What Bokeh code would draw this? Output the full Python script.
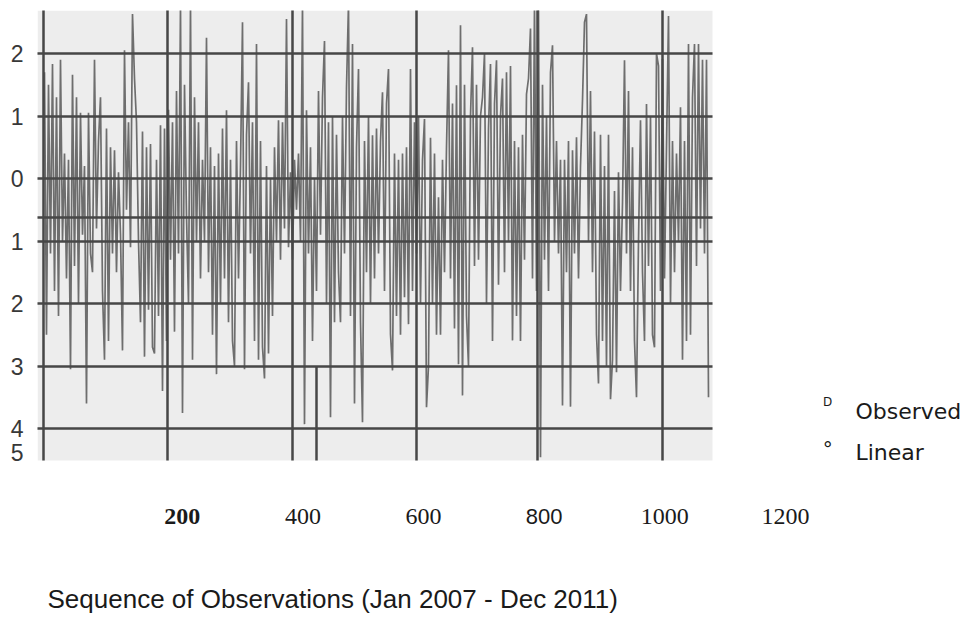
from bokeh.plotting import figure
from bokeh.models import Range1d, FixedTicker, Label, BoxAnnotation, ColumnDataSource
from bokeh.embed import file_html
from bokeh.resources import INLINE

# ---------------- data ----------------
observed_part1 = [1.7, -2.5, 1.5, -1.2, 1.83, -1.8, 1.3, -2.2, 1.9, -1.0,
                  0.4, -1.6, 0.3, -3.05, 1.66, -1.4, 1.3, -2.0, 1.05, -0.9,
                  0.2, -3.6, 1.05, -1.2, -1.5, 1.9, -0.8, 0.6, 1.3, -1.8,
                  -2.9, 0.8, -2.6, 0.5, -1.2, 0.45, -1.5, 0.1, -0.9, -2.75,
                  2.05, -0.5, 0.9, -1.1, 2.63, 1.6, 0.9, -1.0, -2.3, 0.75,
                  -2.85, 0.5, -2.1, 0.55, -2.7, -2.8, 0.3, -2.2, 0.85, -3.4,
                  0.8, -2.6, 1.1, -1.3, 0.9, -2.45, 1.4, -1.2, 2.8, -3.75,
                  1.5, -0.6, -2.0, 2.8, -2.9, 1.3, -1.0, 0.9, -1.6, 0.3,
                  -1.0, 2.25]
observed_part2 = [-1.5, 0.5, -2.5, 0.2, -3.13, 0.4, -2.0, 0.8, -1.6, 1.09,
                  -2.3, 0.3, -2.6, -3.0, 0.6, -1.6, 0.2, 2.5, -3.05, 0.7,
                  1.54, -1.2, 0.9, -2.6, 2.15, -2.9, 0.6, -2.7, -3.2, 0.2,
                  -2.8, 0.0, -2.2, 0.5, -1.0, 0.93, -1.3, 0.9, -0.8, 2.55,
                  -1.1, 0.1, -1.3, 0.3, -0.5, 0.4, -1.0, 2.8, -3.93, 1.09,
                  -1.2, 0.5, -2.6, 0.0, -1.8, 1.4, -0.9, 1.3, 2.2, -2.0,
                  0.9, -3.82, 1.0, -2.3, 0.7, -1.5, -2.3, 1.0, -1.2, 1.46,
                  2.8, -2.2, 2.15, -3.6, 0.5, 1.75, -2.3, -3.9, 0.6, -1.5,
                  1.0, -2.0, 0.69, -1.6, 0.8]
observed_part3 = [-1.2, 0.6, 1.38, -1.8, 1.2, 1.75, -2.49, -3.07, 0.4, -2.2,
                  0.3, -2.5, 0.4, -1.9, 0.5, -2.33, 1.75, -1.8, 0.9, -1.2,
                  1.0, -2.0, 0.3, 0.95, -3.66, -3.0, 0.65, -2.0, 0.4, -2.5,
                  -0.3, -2.5, 0.3, -1.5, 0.5, 2.05, -1.6, 1.2, -2.4, 1.49,
                  -2.97, 2.45, -3.47, 1.5, -2.2, -3.0, 1.0, 2.1, -1.4, 1.5,
                  -1.3, 1.0, 1.3, 2.0, -2.0, 0.8, 1.83, -2.6, 1.2, 1.89,
                  -1.7, 1.0, 1.6, -1.5, 1.7, -1.0, 1.8, -2.59, 0.6, -2.2,
                  0.5, -2.6, 0.7, -1.3, 1.35, 1.6, 2.4, -1.6, 2.8, -1.8,
                  2.8, -4.46, 1.5, -1.3]
observed_part4 = [1.0, -1.8, 1.7, 2.13, -1.0, 0.6, -1.2, 0.3, -3.63, 0.3,
                  -1.5, 0.6, -3.65, 0.45, -1.2, 0.66, -1.6, 0.2, 1.25, 2.5,
                  2.63, -1.0, 1.4, -1.5, 0.75, -2.5, -3.28, 0.7, -2.6, 0.2,
                  -3.0, 0.7, -3.53, -2.9, -0.2, -3.1, 0.1, -1.8, -0.4, 1.89,
                  -1.2, 1.4, -1.8, 0.5, -2.6, -3.5, -1.0, 0.93, -1.5, -2.6,
                  1.19, -1.4, 1.0, -2.5, -2.7, 2.0, 1.8, -1.8, 1.91, -1.6,
                  0.5, 2.6, -2.0, 0.6, -1.5, 0.4, -1.0, 1.14, -2.9, 0.6,
                  -2.6, 2.15, -2.5, 1.3, 2.15, -1.4, 2.15, -0.8, 1.9, -1.2,
                  1.9, -3.5]

y_tick_values = [2, 1, 0, -1, -2, -3, -4, -4.38]
y_tick_labels = ["2", "1", "0", "1", "2", "3", "4", "5"]
h_grid_values = [2, 1, 0, -0.62, -1, -2, -3, -4]
v_grid_values = [-0.5, 61.5, 124, 186, 246.5, 309]
partial_grid_x = [136]
partial_grid_top = [-3.0]

x_tick_values = [200, 400, 600, 800, 1000, 1200]
x_tick_labels = ["200", "400", "600", "800", "1000", "1200"]

legend_symbols = ["D", "°"]
legend_labels = ["Observed", "Linear"]
title_text = "Sequence of Observations (Jan 2007 - Dec 2011)"

# ---------------- figure ----------------
observed = observed_part1 + observed_part2 + observed_part3 + observed_part4
obs_index = list(range(len(observed)))

GRID = "#474747"
TXT = "#1a1a1a"

chart_left, chart_right = -3.5, len(observed) + 1
chart_bottom, chart_top = -4.512, 2.688

p = figure(width=974, height=617, output_backend="svg", toolbar_location=None,
           x_range=Range1d(chart_left, 465), y_range=Range1d(-7.024, chart_top),
           x_axis_location=None,
           min_border_left=37, min_border_right=0,
           min_border_top=10, min_border_bottom=0,
           background_fill_color="white", border_fill_color="white",
           outline_line_color=None)
p.extra_x_ranges = {"lab": Range1d(-40, 1513.4)}

# plot area of the chart
p.add_layout(BoxAnnotation(left=chart_left, right=chart_right,
                           bottom=chart_bottom, top=chart_top,
                           fill_color="#ededed", fill_alpha=1.0,
                           line_color=None, level="underlay"))

p.line(x=obs_index, y=observed, line_color="#6e6e6e", line_width=1.7)

p.ygrid.ticker = FixedTicker(ticks=h_grid_values)
p.ygrid.cross_bounds = (chart_left, chart_right)
p.xgrid.ticker = FixedTicker(ticks=v_grid_values)
p.xgrid.cross_bounds = (chart_bottom, chart_top)
for g in (p.xgrid, p.ygrid):
    g.grid_line_color = GRID
    g.grid_line_width = 2.5
    g.level = "overlay"

p.segment(x0=partial_grid_x, y0=partial_grid_top, x1=partial_grid_x,
          y1=[chart_bottom] * len(partial_grid_x),
          line_color=GRID, line_width=2.5, level="overlay")

ax = p.yaxis[0]
ax.ticker = FixedTicker(ticks=y_tick_values)
ax.major_label_overrides = {v: t for v, t in zip(y_tick_values, y_tick_labels)}
ax.axis_line_color = None
ax.major_tick_line_color = None
ax.minor_tick_line_color = None
ax.major_label_standoff = 8
ax.major_label_text_font = "Liberation Sans"
ax.major_label_text_font_size = "23px"
ax.major_label_text_color = "#383838"

# x tick labels (mixed fonts as in the scan), placed through the label scale
special = {"200": ("Liberation Serif", "bold", "24px"),
           "800": ("Liberation Sans", "normal", "22px")}
fonts, styles, sizes = [], [], []
for t in x_tick_labels:
    f, s, z = special.get(t, ("Liberation Serif", "normal", "24px"))
    fonts.append(f); styles.append(s); sizes.append(z)
x_label_src = ColumnDataSource(dict(x=x_tick_values, text=x_tick_labels,
                                    y=[-5.41] * len(x_tick_values),
                                    font=fonts, style=styles, size=sizes))
p.text(x="x", y="y", text="text", source=x_label_src, x_range_name="lab",
       text_font="font", text_font_style="style", text_font_size="size",
       text_align="center", text_baseline="middle", text_color=TXT)

# legend text
legend_sym_y = [-3.58, -4.32]
legend_txt_y = [-3.73, -4.38]
legend_sym_size = ["12px", "20px"]
for s, t, ys, yt, ss in zip(legend_symbols, legend_labels, legend_sym_y,
                            legend_txt_y, legend_sym_size):
    p.add_layout(Label(x=1270, y=ys, x_range_name="lab", text=s,
                       text_align="center", text_baseline="middle",
                       text_font="DejaVu Sans", text_font_size=ss,
                       text_color=TXT))
    p.add_layout(Label(x=1316, y=yt, x_range_name="lab", text=t,
                       text_align="left", text_baseline="middle",
                       text_font="DejaVu Sans", text_font_size="22px",
                       text_color=TXT))

# chart title (axis caption) under the tick labels
p.add_layout(Label(x=-23.4, y=-6.72, x_range_name="lab", text=title_text,
                   text_align="left", text_baseline="middle",
                   text_font="Liberation Sans", text_font_size="26px",
                   text_color=TXT))

open("out.html", "w").write(file_html(p, INLINE))
